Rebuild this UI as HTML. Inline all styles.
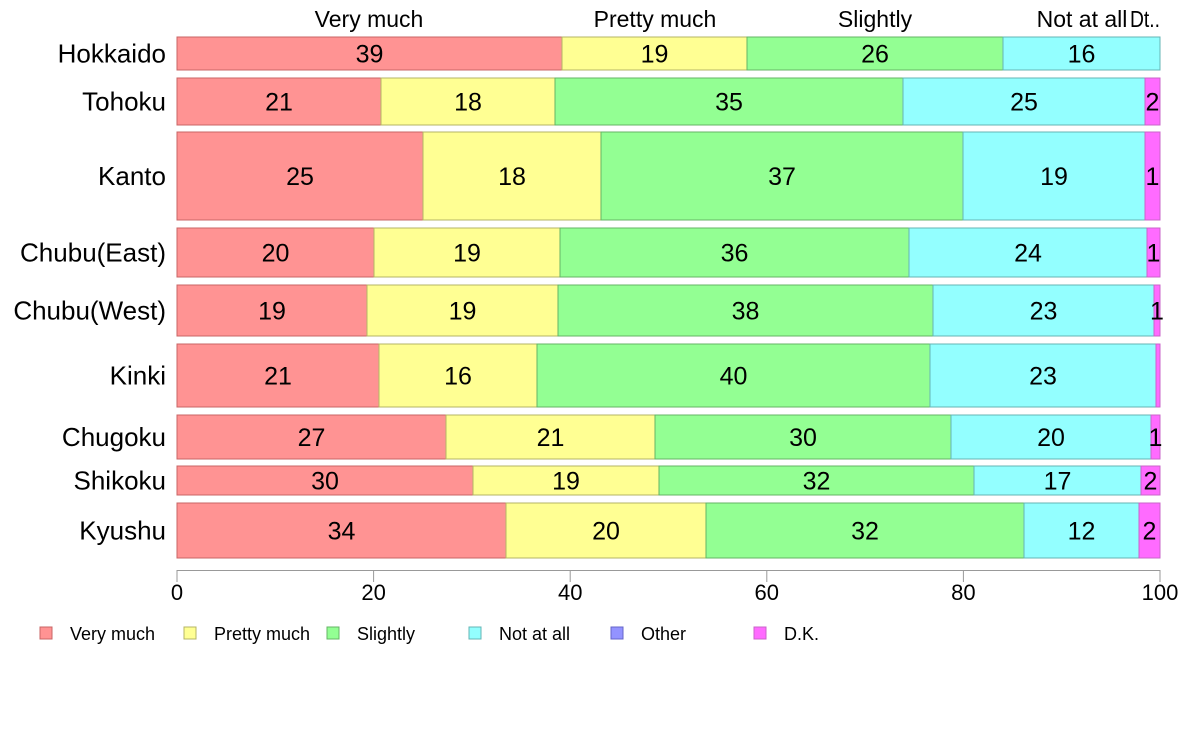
<!DOCTYPE html>
<html><head><meta charset="utf-8"><style>
body{margin:0;background:#fff;width:1188px;height:736px;overflow:hidden}
text{font-family:"Liberation Sans",Arial,sans-serif;fill:#000}
</style></head><body>
<svg id="s" width="1188" height="736" xmlns="http://www.w3.org/2000/svg"></svg>
<script>
const s=document.getElementById('s');let h='';
const fills=['#ff9393','#ffff93','#93ff93','#93ffff','#9393ff','#ff6bff'];
const strokes=['#c86464','#b4b464','#64b464','#64b4b4','#6464c8','#c864c8'];
const rows=[
['Hokkaido',37,70,[177,562,747,1003,1160],[39,19,26,16]],
['Tohoku',78,125,[177,381,555,903,1145,1160],[21,18,35,25,2]],
['Kanto',132,220,[177,423,601,963,1145,1160],[25,18,37,19,1]],
['Chubu(East)',228,277,[177,374,560,909,1147,1160],[20,19,36,24,1]],
['Chubu(West)',285,336,[177,367,558,933,1154,1160],[19,19,38,23,1]],
['Kinki',344,407,[177,379,537,930,1156,1160],[21,16,40,23,'']],
['Chugoku',415,459,[177,446,655,951,1151,1160],[27,21,30,20,1]],
['Shikoku',466,495,[177,473,659,974,1141,1160],[30,19,32,17,2]],
['Kyushu',503,558,[177,506,706,1024,1139,1160],[34,20,32,12,2]]];
rows.forEach(r=>{const[n,y0,y1,b,v]=r;const cy=(y0+y1)/2;
h+=`<text x="166" y="${cy+9}" font-size="26" text-anchor="end">${n}</text>`;
for(let i=0;i<b.length-1;i++){const c=i<4?i:5;
h+=`<rect x="${b[i]}" y="${y0}" width="${b[i+1]-b[i]}" height="${y1-y0}" fill="${fills[c]}" stroke="${strokes[c]}" stroke-width="1"/>`;
h+=`<text x="${(b[i]+b[i+1])/2}" y="${cy+9}" font-size="25" text-anchor="middle">${v[i]}</text>`;}
});
[['Very much',369],['Pretty much',655],['Slightly',875],['Not at all',1082]].forEach(t=>h+=`<text x="${t[1]}" y="27" font-size="23" text-anchor="middle">${t[0]}</text>`);
h+=`<text x="1130" y="27" font-size="23" textLength="30" lengthAdjust="spacingAndGlyphs">Dt..</text>`;
h+=`<line x1="177" y1="570.5" x2="1160" y2="570.5" stroke="#999"/>`;
for(let k=0;k<=5;k++){const x=177+k*196.6;h+=`<line x1="${x}" y1="570" x2="${x}" y2="582" stroke="#999"/><text x="${x}" y="600" font-size="22" text-anchor="middle">${k*20}</text>`;}
[['Very much',40],['Pretty much',184],['Slightly',327],['Not at all',469],['Other',611],['D.K.',754]].forEach((t,i)=>{
h+=`<rect x="${t[1]}" y="627" width="12" height="12" fill="${fills[i]}" stroke="${strokes[i]}"/><text x="${t[1]+30}" y="640" font-size="18">${t[0]}</text>`;});
s.innerHTML=h;
</script>
</body></html>
